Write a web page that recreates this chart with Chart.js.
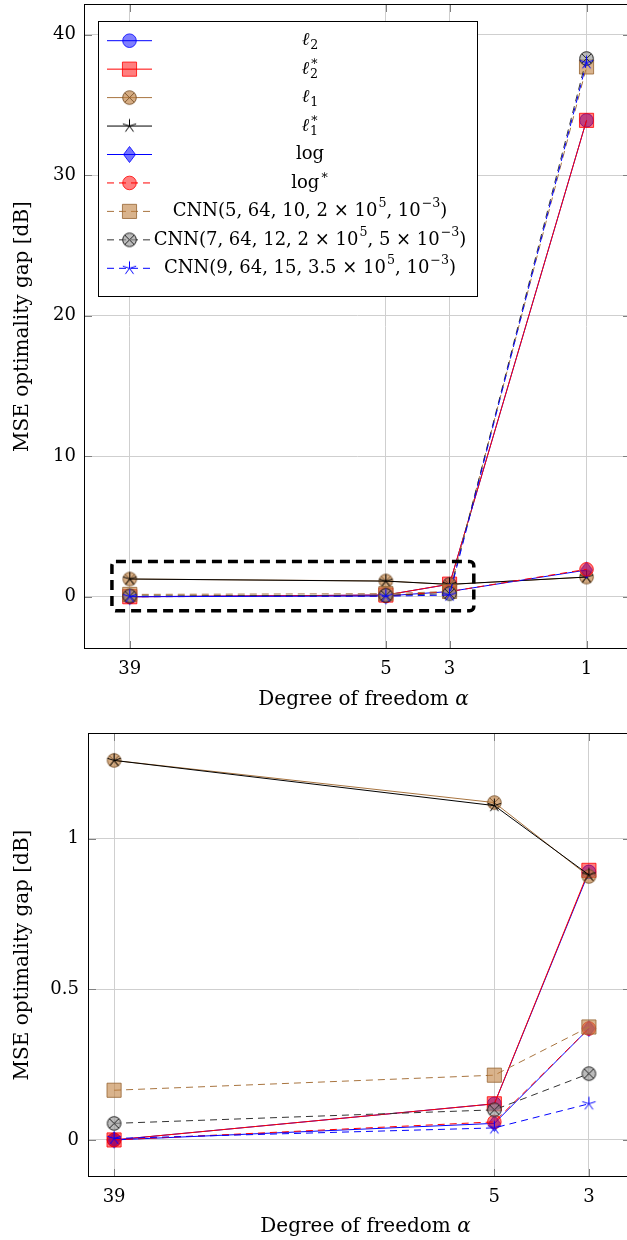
<!DOCTYPE html>
<html>
<head>
<meta charset="utf-8">
<script src="https://cdn.jsdelivr.net/npm/chart.js@4.4.1/dist/chart.umd.min.js"></script>
<style>
	html, body { margin: 0; padding: 0; background: #fff; overflow: hidden; width: 627px; height: 1240px; }
	canvas { display: block; }
</style>
</head>
<body>
<canvas id="overview" width="640" height="716"></canvas>
<canvas id="detail" width="640" height="524"></canvas>
<script>
// degree of freedom (x) and MSE optimality gap in dB per method
const alphas = [39, 5, 3, 1];
const detailAlphas = [39, 5, 3];
const l2 = [0.0, 0.12, 0.89, 33.9];
const l2Star = [0.0, 0.12, 0.895, 33.9];
const l1 = [1.26, 1.12, 0.875, 1.4];
const l1Star = [1.26, 1.11, 0.88, 1.4];
const logLoss = [0.0, 0.055, 0.37, 1.9];
const logStar = [0.0, 0.06, 0.37, 1.95];
const cnn5 = [0.165, 0.215, 0.375, 37.7];
const cnn7 = [0.055, 0.1, 0.22, 38.3];
const cnn9 = [0.005, 0.04, 0.12, 38.0];

const seriesLabels = [
	'ℓ_2', 'ℓ_2^∗', 'ℓ_1', 'ℓ_1^∗', 'log', 'log^∗',
	'CNN(5, 64, 10, 2 × 10^5, 10^{−3})',
	'CNN(7, 64, 12, 2 × 10^5, 5 × 10^{−3})',
	'CNN(9, 64, 15, 3.5 × 10^5, 10^{−3})'
];
const seriesValues = [l2, l2Star, l1, l1Star, logLoss, logStar, cnn5, cnn7, cnn9];

const overviewXTicks = [39, 5, 3, 1];
const overviewYTicks = [0, 10, 20, 30, 40];
const detailXTicks = [39, 5, 3];
const detailYTicks = [0, 0.5, 1];

const xTitle = 'Degree of freedom α';
const yTitle = 'MSE optimality gap [dB]';

const FONT = '"DejaVu Serif", "Liberation Serif", serif';
const GRID = '#cfcfcf';
const BLUE = '#0000ff';
const RED = '#ff0000';
const BROWN = '#a8743f';

// markers that Chart.js has no built-in style for
function markerCanvas(w, h, draw) {
	const c = document.createElement('canvas');
	c.width = w;
	c.height = h;
	draw(c.getContext('2d'), w / 2, h / 2);
	return c;
}

function otimes(fill, stroke) {
	return markerCanvas(17, 17, (g, cx, cy) => {
		const r = 6.8;
		g.fillStyle = fill;
		g.strokeStyle = stroke;
		g.lineWidth = 1;
		g.beginPath();
		g.arc(cx, cy, r, 0, Math.PI * 2);
		g.fill();
		g.stroke();
		const d = r * Math.SQRT1_2;
		g.beginPath();
		g.moveTo(cx - d, cy - d);
		g.lineTo(cx + d, cy + d);
		g.moveTo(cx + d, cy - d);
		g.lineTo(cx - d, cy + d);
		g.stroke();
	});
}

function star5(stroke) {
	return markerCanvas(17, 17, (g, cx, cy) => {
		g.strokeStyle = stroke;
		g.lineWidth = 1;
		g.beginPath();
		for (let k = 0; k < 5; k++) {
			const a = (-90 + 72 * k) * Math.PI / 180;
			g.moveTo(cx, cy);
			g.lineTo(cx + 7 * Math.cos(a), cy + 7 * Math.sin(a));
		}
		g.stroke();
	});
}

function diamond(fill, stroke) {
	return markerCanvas(15, 19, (g, cx, cy) => {
		g.fillStyle = fill;
		g.strokeStyle = stroke;
		g.lineWidth = 1;
		g.beginPath();
		g.moveTo(cx, cy - 8);
		g.lineTo(cx + 6, cy);
		g.lineTo(cx, cy + 8);
		g.lineTo(cx - 6, cy);
		g.closePath();
		g.fill();
		g.stroke();
	});
}

const styles = [
	{ color: BLUE, dash: [], point: 'circle', radius: 6.8, fill: 'rgba(0,0,255,0.5)', edge: 'rgba(0,0,255,0.8)' },
	{ color: RED, dash: [], point: 'rect', radius: 10, fill: 'rgba(255,0,0,0.5)', edge: 'rgba(255,0,0,0.8)' },
	{ color: BROWN, dash: [], point: otimes('rgba(191,128,64,0.65)', 'rgba(120,80,40,0.9)') },
	{ color: '#000', dash: [], point: star5('#000') },
	{ color: BLUE, dash: [], point: diamond('rgba(0,0,255,0.55)', 'rgba(0,0,255,0.8)') },
	{ color: RED, dash: [7, 5], point: 'circle', radius: 6.8, fill: 'rgba(255,0,0,0.5)', edge: 'rgba(255,0,0,0.8)' },
	{ color: BROWN, dash: [7, 5], point: 'rect', radius: 10, fill: 'rgba(191,128,64,0.6)', edge: 'rgba(150,100,50,0.8)' },
	{ color: '#333', dash: [7, 5], point: otimes('rgba(150,150,150,0.65)', '#222') },
	{ color: BLUE, dash: [7, 5], point: star5(BLUE) }
];

function buildDatasets(xs) {
	return seriesValues.map((vals, i) => {
		const s = styles[i];
		return {
			label: seriesLabels[i],
			data: xs.map((a, j) => ({ x: a, y: vals[j] })),
			borderColor: s.color,
			borderWidth: 1,
			borderDash: s.dash,
			pointStyle: s.point,
			pointRadius: s.radius || 7,
			pointBackgroundColor: s.fill || s.color,
			pointBorderColor: s.edge || s.color,
			pointBorderWidth: 1,
			tension: 0,
			fill: false,
			order: 9 - i
		};
	});
}

// small rich text: _x subscript, ^x / ^{..} superscript, ℓ and α italic
const ITALIC = 'ℓα';

function parseRich(str) {
	const runs = [];
	let i = 0;
	while (i < str.length) {
		const c = str[i];
		if (c === '_' || c === '^') {
			let t;
			if (str[i + 1] === '{') {
				const j = str.indexOf('}', i);
				t = str.slice(i + 2, j);
				i = j + 1;
			} else {
				t = str[i + 1];
				i += 2;
			}
			runs.push({ t, kind: c === '_' ? 'sub' : 'sup' });
		} else {
			const it = ITALIC.includes(c);
			const last = runs[runs.length - 1];
			if (last && last.kind === 'base' && last.it === it) last.t += c;
			else runs.push({ t: c, kind: 'base', it });
			i++;
		}
	}
	return runs;
}

function drawRich(ctx, str, x, y, size, align) {
	const runs = parseRich(str);
	const items = [];
	let w = 0;
	for (let k = 0; k < runs.length; k++) {
		const r = runs[k];
		if (r.kind === 'base') {
			ctx.font = (r.it ? 'italic ' : '') + size + 'px ' + FONT;
			items.push({ t: r.t, f: ctx.font, x: w, dy: 0 });
			w += ctx.measureText(r.t).width;
		} else {
			let bw = 0;
			while (k < runs.length && runs[k].kind !== 'base') {
				const sc = runs[k];
				ctx.font = (size * 0.7) + 'px ' + FONT;
				items.push({ t: sc.t, f: ctx.font, x: w + 1, dy: sc.kind === 'sub' ? size * 0.3 : -size * 0.4 });
				bw = Math.max(bw, ctx.measureText(sc.t).width + 1);
				k++;
			}
			k--;
			w += bw;
		}
	}
	const x0 = align === 'center' ? x - w / 2 : align === 'right' ? x - w : x;
	ctx.textAlign = 'left';
	ctx.textBaseline = 'middle';
	ctx.fillStyle = '#000';
	items.forEach((it) => {
		ctx.font = it.f;
		ctx.fillText(it.t, x0 + it.x, y + it.dy);
	});
}

function makeDecor(cfg) {
	return {
		id: 'decor',
		afterDatasetsDraw(chart) {
			const { ctx, chartArea: a, scales } = chart;
			ctx.save();

			// inner tick marks on all four sides
			ctx.strokeStyle = '#808080';
			ctx.lineWidth = 1;
			ctx.beginPath();
			scales.x.ticks.forEach((t) => {
				const px = Math.round(scales.x.getPixelForValue(t.value)) + 0.5;
				ctx.moveTo(px, a.top);
				ctx.lineTo(px, a.top + 8);
				ctx.moveTo(px, a.bottom);
				ctx.lineTo(px, a.bottom - 8);
			});
			scales.y.ticks.forEach((t) => {
				const py = Math.round(scales.y.getPixelForValue(t.value)) + 0.5;
				ctx.moveTo(a.left, py);
				ctx.lineTo(a.left + 8, py);
				ctx.moveTo(a.right, py);
				ctx.lineTo(a.right - 8, py);
			});
			ctx.stroke();

			// frame
			ctx.strokeStyle = '#000';
			ctx.strokeRect(a.left + 0.5, a.top + 0.5, a.right - a.left - 1, a.bottom - a.top - 1);

			// dashed zoom window
			if (cfg.box) {
				const x0 = scales.x.getPixelForValue(cfg.box.x0);
				const x1 = scales.x.getPixelForValue(cfg.box.x1);
				const y0 = scales.y.getPixelForValue(cfg.box.y1);
				const y1 = scales.y.getPixelForValue(cfg.box.y0);
				ctx.lineWidth = 3.5;
				ctx.setLineDash([10, 6]);
				ctx.beginPath();
				ctx.roundRect(x0, y0, x1 - x0, y1 - y0, 4);
				ctx.stroke();
				ctx.setLineDash([]);
			}

			// legend
			if (cfg.legend) {
				const L = cfg.legend;
				ctx.fillStyle = '#fff';
				ctx.fillRect(L.left, L.top, L.width, L.height);
				ctx.strokeStyle = '#000';
				ctx.lineWidth = 1;
				ctx.strokeRect(L.left + 0.5, L.top + 0.5, L.width, L.height);
				chart.data.datasets.forEach((ds, i) => {
					const y = L.firstRow + i * L.rowStep;
					ctx.strokeStyle = ds.borderColor;
					ctx.lineWidth = ds.borderWidth;
					ctx.setLineDash(ds.borderDash);
					ctx.beginPath();
					ctx.moveTo(L.left + 9, y);
					ctx.lineTo(L.left + 54, y);
					ctx.stroke();
					ctx.setLineDash([]);
					ctx.fillStyle = ds.pointBackgroundColor;
					ctx.strokeStyle = ds.pointBorderColor;
					ctx.lineWidth = 1;
					Chart.helpers.drawPoint(ctx, { pointStyle: ds.pointStyle, radius: ds.pointRadius, rotation: 0, borderWidth: 1 }, L.left + 31.5, y);
					drawRich(ctx, ds.label, L.textX, y, 18, 'center');
				});
			}

			// axis titles
			drawRich(ctx, xTitle, (a.left + a.right) / 2 + 6, cfg.xTitleY, 20, 'center');
			ctx.translate(23, (a.top + a.bottom) / 2);
			ctx.rotate(-Math.PI / 2);
			drawRich(ctx, yTitle, 0, 0, 20, 'center');
			ctx.restore();
		}
	};
}

function makeChart(id, cfg) {
	const tickFont = { family: FONT, size: 18 };
	return new Chart(document.getElementById(id), {
		type: 'line',
		data: { datasets: buildDatasets(cfg.xs) },
		options: {
			responsive: false,
			animation: false,
			devicePixelRatio: 1,
			layout: { padding: cfg.padding, autoPadding: false },
			plugins: { legend: { display: false }, tooltip: { enabled: false } },
			scales: {
				x: {
					type: 'logarithmic',
					reverse: true,
					min: cfg.xMin,
					max: cfg.xMax,
					afterBuildTicks: (s) => { s.ticks = cfg.xTicks.map((v) => ({ value: v })); },
					afterFit: (s) => {
						s.height = cfg.xAxisHeight;
						s.paddingLeft = 0;
						s.paddingRight = 0;
					},
					ticks: { autoSkip: false, maxRotation: 0, padding: 10, color: '#000', font: tickFont, callback: (v) => String(v) },
					grid: { color: GRID, drawTicks: false },
					border: { display: false }
				},
				y: {
					min: cfg.yMin,
					max: cfg.yMax,
					afterBuildTicks: (s) => { s.ticks = cfg.yTicks.map((v) => ({ value: v })); },
					afterFit: (s) => {
						s.width = cfg.yAxisWidth;
						s.paddingTop = 0;
						s.paddingBottom = 0;
					},
					// tiny line height keeps the label boxes from padding the plot top
					ticks: { padding: cfg.yPad, color: '#000', font: { family: FONT, size: 18, lineHeight: 0.1 }, callback: (v) => String(v) },
					grid: { color: GRID, drawTicks: false },
					border: { display: false }
				}
			}
		},
		plugins: [makeDecor(cfg)]
	});
}

makeChart('overview', {
	xs: alphas,
	padding: { top: 4, right: 9, left: 0, bottom: 0 },
	xMin: 0.709, xMax: 56.3, xTicks: overviewXTicks, xAxisHeight: 67,
	yMin: -3.72, yMax: 42.18, yTicks: overviewYTicks, yAxisWidth: 84, yPad: 8,
	xTitleY: 700,
	box: { x0: 45, x1: 2.47, y0: -1, y1: 2.5 },
	legend: { left: 98, top: 21, width: 379, height: 275, firstRow: 40.7, rowStep: 28.45, textX: 310 }
});

makeChart('detail', {
	xs: detailAlphas,
	padding: { top: 17, right: 9, left: 0, bottom: 0 },
	xMin: 2.39, xMax: 44.9, xTicks: detailXTicks, xAxisHeight: 63,
	yMin: -0.123, yMax: 1.351, yTicks: detailYTicks, yAxisWidth: 88, yPad: 9,
	xTitleY: 511
});
</script>
</body>
</html>
